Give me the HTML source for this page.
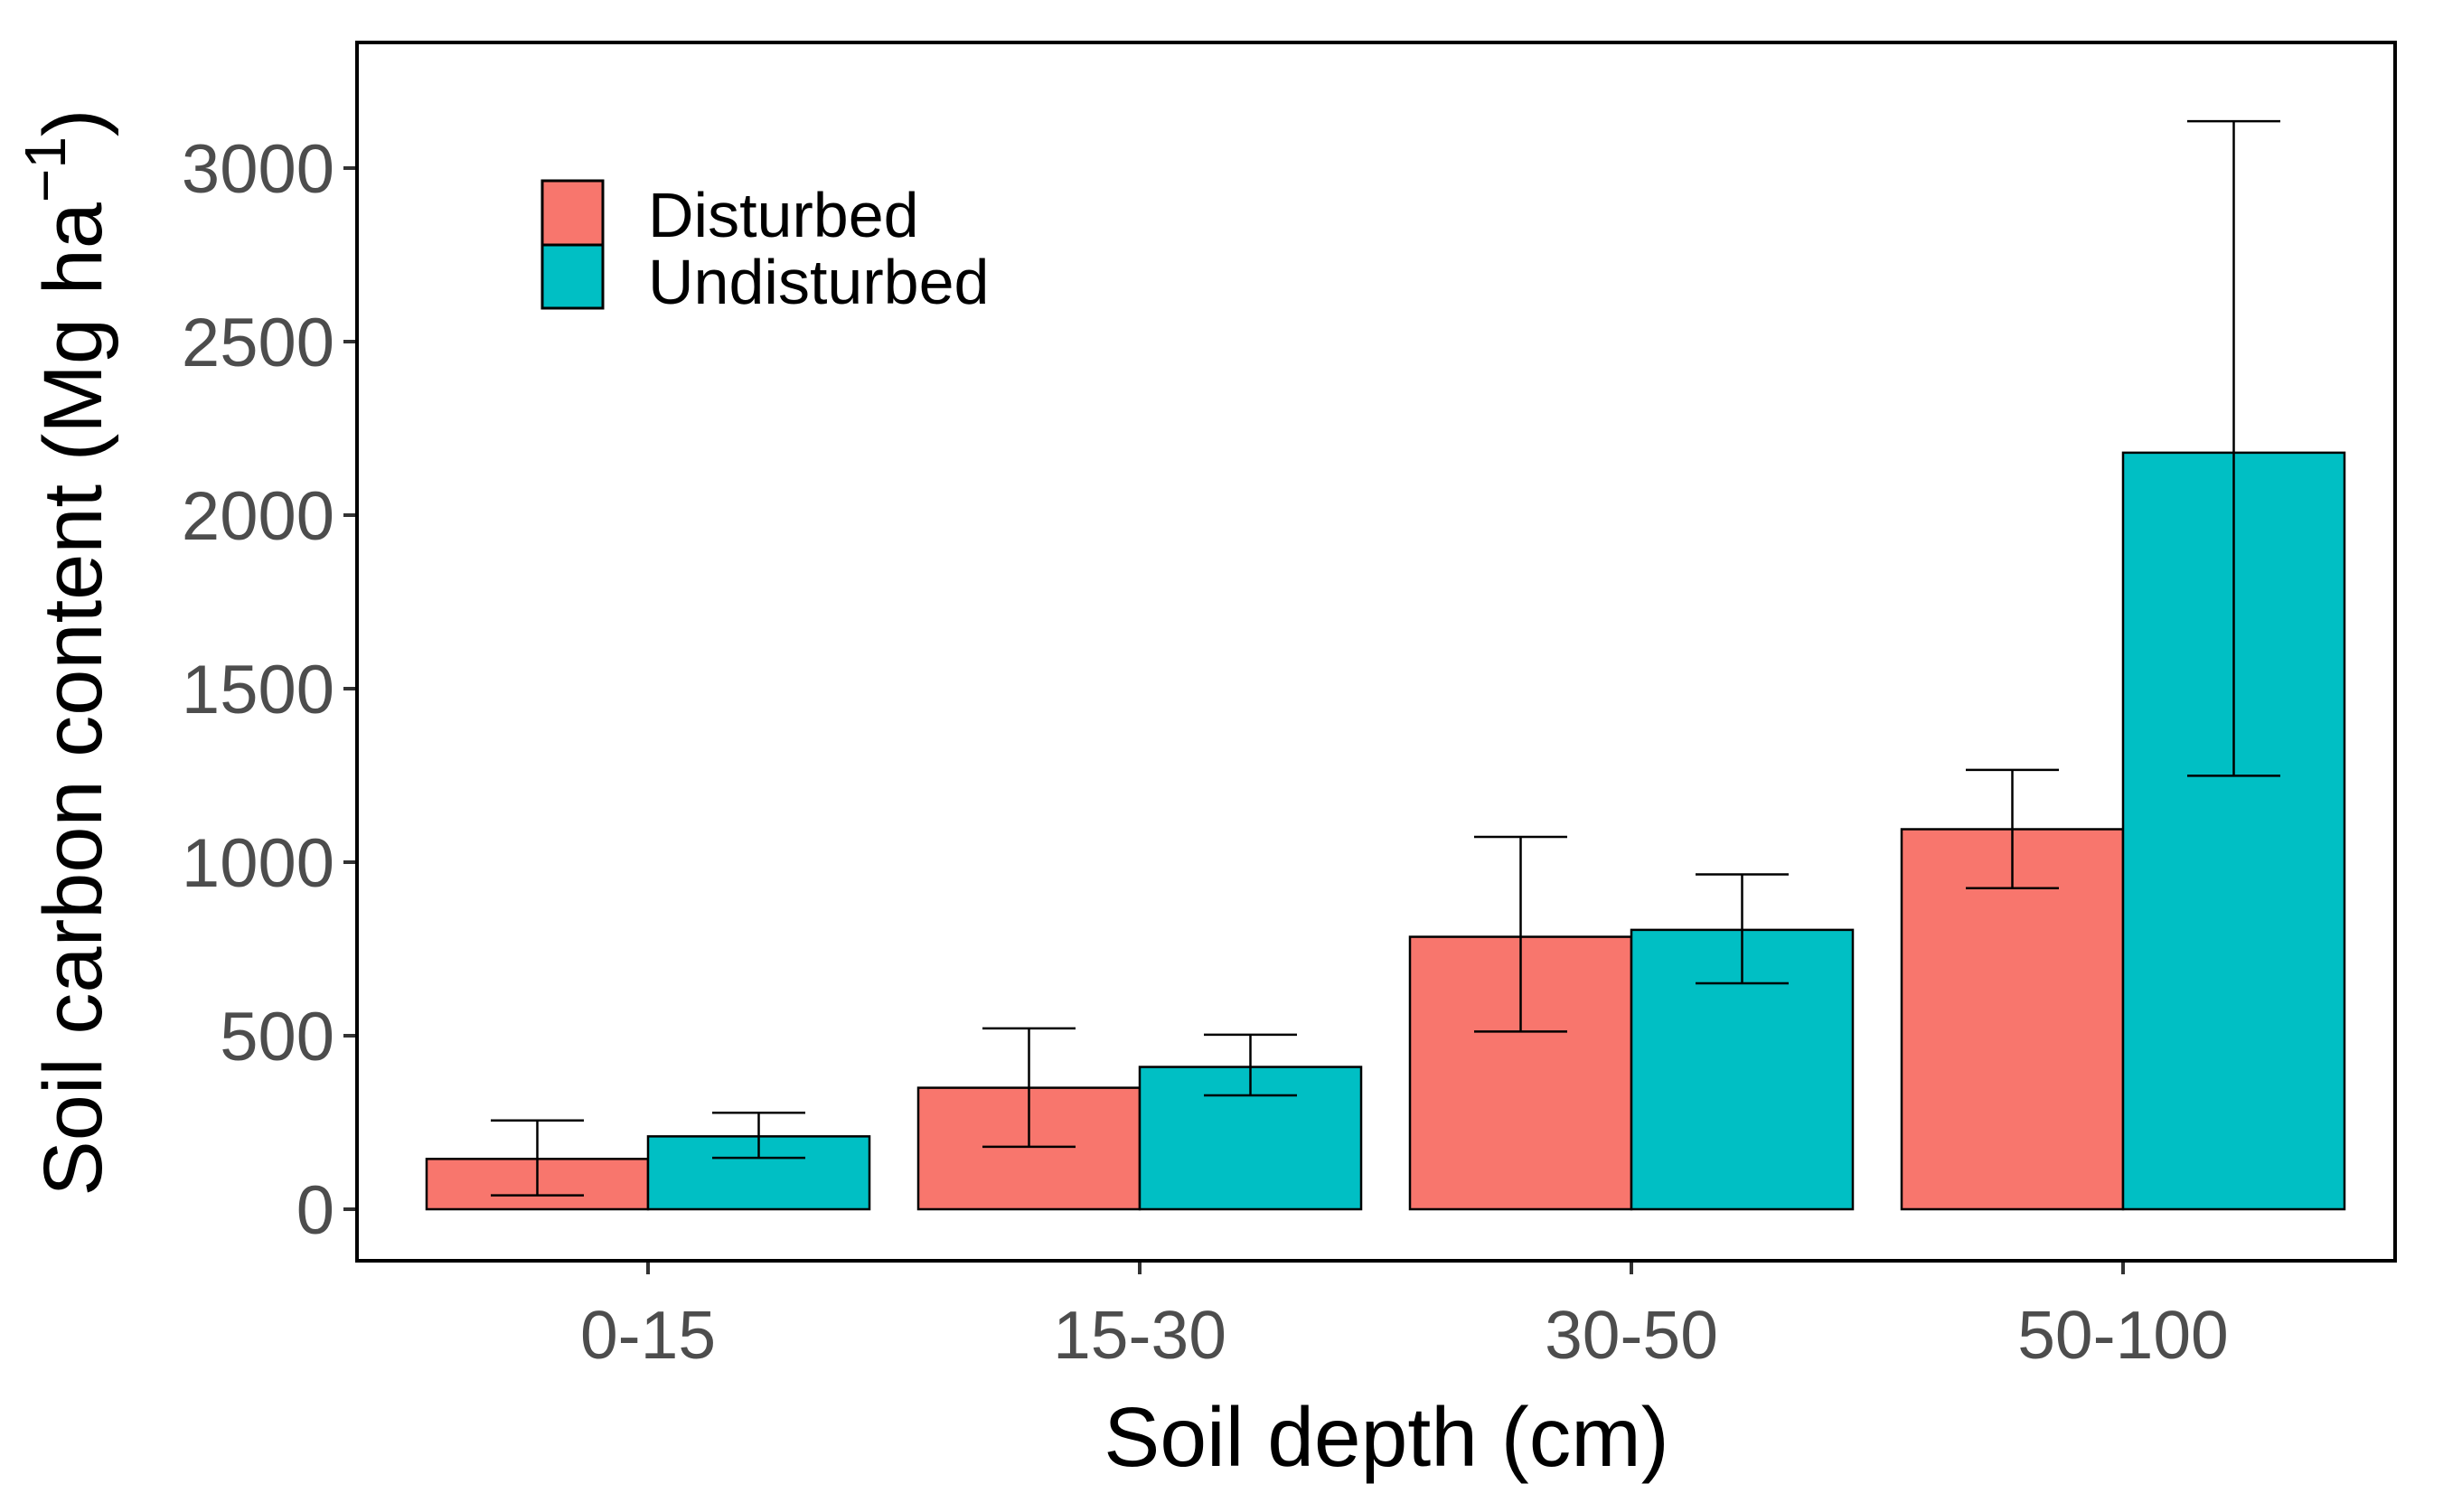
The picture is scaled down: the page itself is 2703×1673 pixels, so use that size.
<!DOCTYPE html>
<html><head><meta charset="utf-8"><style>
html,body{margin:0;padding:0;background:#fff;}
svg{display:block;font-family:"Liberation Sans",Arial,sans-serif;}
</style></head><body>
<svg id="chart" width="2703" height="1673" viewBox="0 0 2703 1673">
<rect x="0" y="0" width="2703" height="1673" fill="#fff"/>
<g id="plot"></g>
<rect x="395" y="47" width="2255" height="1348" fill="none" stroke="#000" stroke-width="4"/>
<text x="1534" y="1622" font-size="93" text-anchor="middle" fill="#000">Soil depth (cm)</text>
<text transform="translate(112,722) rotate(-90)" font-size="92" text-anchor="middle" fill="#000">Soil carbon content (Mg ha<tspan dy="-40" font-size="64">−1</tspan><tspan dy="40">)</tspan></text>
<g>
<rect x="600" y="200" width="67" height="71" fill="#F8766D" stroke="#000" stroke-width="3"/>
<rect x="600" y="271" width="67" height="70" fill="#00BFC4" stroke="#000" stroke-width="3"/>
<text x="717" y="262" font-size="70" fill="#000">Disturbed</text>
<text x="717" y="336" font-size="70" fill="#000">Undisturbed</text>
</g>
</svg>
<script>
const categories = ["0-15","15-30","30-50","50-100"];
const disturbed = [145, 350, 785, 1095];
const undisturbed = [210, 410, 805, 2180];
const disturbedLow = [40, 180, 512, 925];
const disturbedHigh = [256, 521, 1073, 1266];
const undisturbedLow = [148, 328, 651, 1249];
const undisturbedHigh = [278, 503, 965, 3135];
const yTicks = [0, 500, 1000, 1500, 2000, 2500, 3000];

const NS = "http://www.w3.org/2000/svg";
const g = document.getElementById("plot");
const y0 = 1338, yPer = (1338 - 186) / 3000;
function yScale(v){ return y0 - v * yPer; }
const xFirst = 717, xStep = 544;
function xScale(i){ return xFirst + i * xStep; }
const barW = 245, capW = 103;
function mk(tag, attrs){ const e = document.createElementNS(NS, tag); for (const k in attrs) e.setAttribute(k, attrs[k]); g.appendChild(e); return e; }

yTicks.forEach(t => {
  const yy = yScale(t);
  const tk = mk("line", {x1:380, x2:395, y1:yy, y2:yy, stroke:"#333", "stroke-width":4});
  
  
  const lb = mk("text", {x:370, y:yy + 27, "font-size":76, "text-anchor":"end", fill:"#4d4d4d"});
  lb.textContent = t;
  
  
});

categories.forEach((c, i) => {
  const cx = xScale(i);
  const tk = mk("line", {x1:cx, x2:cx, y1:1395, y2:1410, stroke:"#333", "stroke-width":4});
  
  
  const lb = mk("text", {x:cx, y:1503, "font-size":75, "text-anchor":"middle", fill:"#4d4d4d"});
  lb.textContent = c;
  
  

  const series = [
    {v:disturbed[i], lo:disturbedLow[i], hi:disturbedHigh[i], x:cx - barW, col:"#F8766D", n:"disturbed"},
    {v:undisturbed[i], lo:undisturbedLow[i], hi:undisturbedHigh[i], x:cx, col:"#00BFC4", n:"undisturbed"}
  ];
  series.forEach(s => {
    const b = mk("rect", {x:s.x, y:yScale(s.v), width:barW, height:yScale(0) - yScale(s.v), fill:s.col, stroke:"#000", "stroke-width":2.5});
    
    
  });
  series.forEach(s => {
    const mx = s.x + barW / 2;
    const eg = document.createElementNS(NS, "g");
    
    
    g.appendChild(eg);
    [[mx, mx, yScale(s.lo), yScale(s.hi)], [mx - capW/2, mx + capW/2, yScale(s.hi), yScale(s.hi)], [mx - capW/2, mx + capW/2, yScale(s.lo), yScale(s.lo)]].forEach(l => {
      const ln = document.createElementNS(NS, "line");
      ln.setAttribute("x1", l[0]); ln.setAttribute("x2", l[1]); ln.setAttribute("y1", l[2]); ln.setAttribute("y2", l[3]);
      ln.setAttribute("stroke", "#000"); ln.setAttribute("stroke-width", 2.5);
      eg.appendChild(ln);
    });
  });
});
</script>
</body></html>
